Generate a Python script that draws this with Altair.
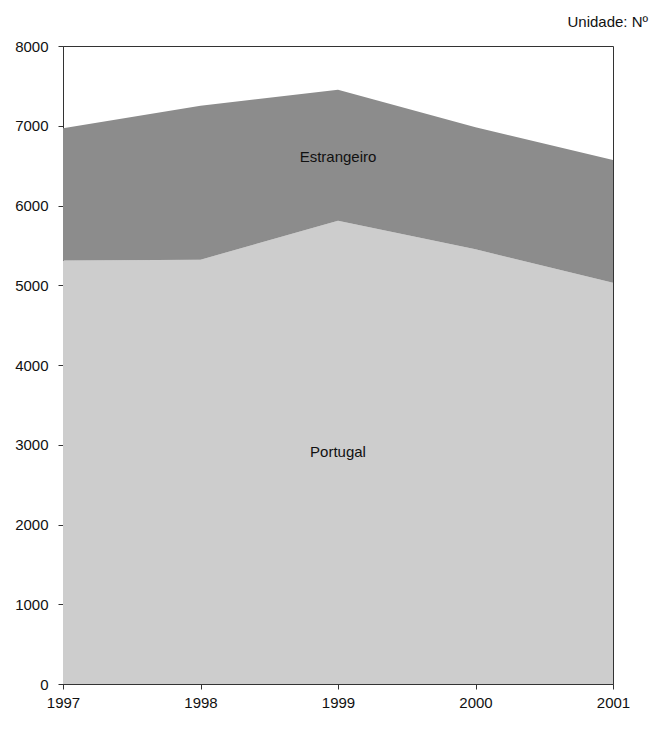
import altair as alt
import pandas as pd

years = [1997, 1998, 1999, 2000, 2001]
portugal = [5310, 5320, 5810, 5450, 5030]
estrangeiro_total = [6970, 7250, 7450, 6980, 6570]
estrangeiro = [t - p for t, p in zip(estrangeiro_total, portugal)]

series_names = ["Portugal", "Estrangeiro"]
series_colors = ["#cdcdcd", "#8c8c8c"]

rows = []
for i, y in enumerate(years):
    rows.append({"ano": y, "serie": "Portugal", "valor": portugal[i], "ordem": 0})
    rows.append({"ano": y, "serie": "Estrangeiro", "valor": estrangeiro[i], "ordem": 1})
df = pd.DataFrame(rows)

label_text = ["Estrangeiro", "Portugal"]
label_year = [1999, 1999]
label_value = [6610, 2910]
labels = pd.DataFrame({"ano": label_year, "valor": label_value, "txt": label_text})

FONT = "Liberation Sans"

x_enc = alt.X(
    "ano:Q",
    scale=alt.Scale(domain=[1997, 2001], nice=False, zero=False),
    axis=alt.Axis(values=years, format="d", title=None, grid=False,
                  tickSize=5, labelPadding=6, labelFontSize=15, labelFont=FONT,
                  labelColor="#111", domainColor="#333", tickColor="#333",
                  labelFlush=False),
)
y_axis = alt.Axis(values=list(range(0, 8001, 1000)), format="d", title=None, grid=False,
                  tickSize=5, labelPadding=10, labelFontSize=15, labelFont=FONT,
                  labelColor="#111", domainColor="#333", tickColor="#333")

area = alt.Chart(df).mark_area(interpolate="linear").encode(
    x=x_enc,
    y=alt.Y("valor:Q", stack="zero", scale=alt.Scale(domain=[0, 8000], nice=False), axis=y_axis),
    color=alt.Color("serie:N", scale=alt.Scale(domain=series_names, range=series_colors), legend=None),
    order=alt.Order("ordem:Q", sort="ascending"),
)

text = alt.Chart(labels).mark_text(fontSize=15, font=FONT, color="#111").encode(
    x=alt.X("ano:Q"),
    y=alt.Y("valor:Q"),
    text="txt:N",
)

chart = alt.layer(area, text).properties(
    width=550,
    height=638,
    padding={"left": 55, "top": 38, "right": 36, "bottom": 28},
    autosize=alt.AutoSizeParams(type="none"),
    title=alt.TitleParams("Unidade: Nº", anchor="end", orient="top", frame="group",
                          fontSize=15, fontWeight="normal", font=FONT, color="#111",
                          dx=35, offset=9),
).configure_view(stroke="#333", strokeWidth=1)

chart.save("out.html", embed_options={"renderer": "svg", "actions": False})
